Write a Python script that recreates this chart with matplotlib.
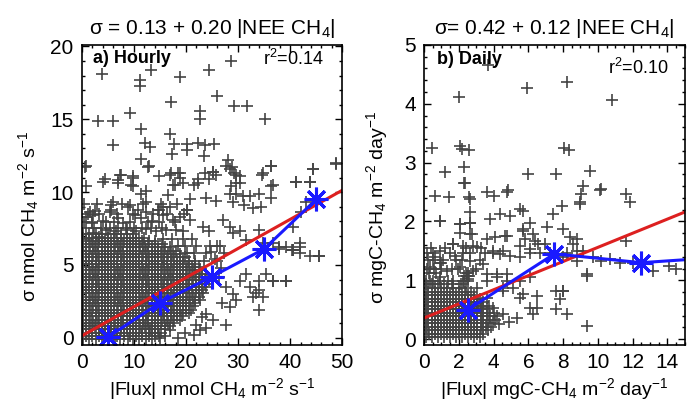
import matplotlib
matplotlib.use("Agg")
import matplotlib.pyplot as plt
from matplotlib.ticker import MultipleLocator

plt.rcParams['font.family'] = ['Liberation Sans', 'DejaVu Sans']
plt.rcParams['mathtext.fontset'] = 'custom'
plt.rcParams['mathtext.rm'] = 'Liberation Sans'
plt.rcParams['mathtext.it'] = 'Liberation Sans'
plt.rcParams['mathtext.bf'] = 'Liberation Sans:bold'

# ---- hourly panel data (|flux| nmol CH4 m-2 s-1, sigma) ----
# dense cloud near the origin, read row by row: sigma -> flux values
hourly_core = {
    -0.1: "0.3 1.4 2.7 3.8 5.2 6.3 7.4 8.8 9.9 11.0 12.3 13.5",
    0.12: "0.9 2.0 3.3 4.4 5.7 6.8 8.1 9.2 10.5 11.6 12.9 14.0 14.8",
    0.35: "0.8 2.0 3.3 4.4 5.7 6.8 8.1 9.2 10.5 11.6 12.9 14.0 15.2",
    0.57: "0.3 1.4 2.7 3.8 5.1 6.2 7.5 8.6 9.9 11.0 12.3 13.4 14.7 15.9",
    0.8: "0.2 1.5 2.6 3.9 5.0 6.3 7.5 8.6 9.9 11.1 12.2 13.5 14.6 15.9 17.0",
    1.02: "0.8 2.1 3.2 4.5 5.6 6.9 8.0 9.3 10.4 11.7 12.8 14.1 15.2 16.5 17.6",
    1.25: "0.9 2.0 3.3 4.5 5.6 6.9 8.0 9.3 10.4 11.7 12.8 14.1 15.3 16.4 17.7 18.8",
    1.47: "0.3 1.4 2.7 3.8 5.1 6.2 7.5 8.6 9.9 11.0 12.3 13.4 14.7 15.8 17.1 18.2 19.3",
    1.7: "0.3 1.6 2.7 3.8 5.1 6.2 7.5 8.6 9.9 11.0 12.3 13.4 14.7 15.8 17.1 18.2 19.5 20.6",
    1.92: "0.9 2.0 3.3 4.4 5.7 6.8 8.1 9.2 10.5 11.6 12.9 14.0 15.3 16.4 17.7 18.8 20.0 21.0",
    2.15: "0.9 2.1 3.2 4.5 5.6 6.9 8.0 9.3 10.4 11.7 12.8 14.1 15.2 16.5 17.6 18.9 20.0 21.3",
    2.37: "0.3 1.4 2.7 3.8 5.1 6.2 7.5 8.6 9.9 11.0 12.3 13.4 14.7 15.8 17.1 18.2 19.5 20.6 21.8",
    2.6: "0.2 1.5 2.6 3.9 5.0 6.3 7.4 8.7 9.8 11.1 12.2 13.5 14.6 15.9 17.0 18.3 19.4 20.7 21.8 22.6",
    2.82: "0.8 2.1 3.2 4.5 5.6 6.9 8.0 9.3 10.4 11.7 12.8 14.1 15.2 16.5 17.6 18.9 20.0 21.3 22.5",
    3.05: "0.9 2.0 3.3 4.4 5.7 6.8 8.1 9.2 10.5 11.6 12.9 14.0 15.3 16.4 17.7 18.8 20.1 21.2 22.4 23.3",
    3.27: "0.3 1.4 2.7 3.8 5.1 6.2 7.5 8.6 9.9 11.0 12.3 13.4 14.7 15.8 17.1 18.2 19.5 20.6 21.9 23.1",
    3.5: "0.3 1.4 2.7 3.8 5.1 6.2 7.5 8.6 9.9 11.0 12.3 13.4 14.7 15.8 17.1 18.2 19.5 20.6 21.9 23.0 23.9",
    3.72: "0.9 2.0 3.3 4.4 5.7 6.8 8.1 9.2 10.5 11.6 12.9 14.0 15.3 16.4 17.7 18.8 20.1 21.2 22.5 23.6",
    3.95: "0.8 2.1 3.2 4.5 5.6 6.9 8.0 9.3 10.4 11.7 12.8 14.1 15.2 16.5 17.6 18.9 20.0 21.3 22.4 23.6 24.5",
    4.17: "0.3 1.4 2.7 3.8 5.1 6.2 7.5 8.6 9.9 11.0 12.3 13.4 14.7 15.8 17.1 18.2 19.5 20.6 21.9 23.0 24.2",
    4.4: "0.2 1.5 2.6 3.9 5.0 6.3 7.4 8.7 9.8 11.1 12.2 13.5 14.6 15.9 17.0 18.3 19.4 20.7 21.8 23.0 23.9",
    4.62: "0.8 2.1 3.2 4.5 5.6 6.9 8.0 9.3 10.4 11.7 12.8 14.1 15.2 16.5 17.6 18.9 20.0 21.3 22.6",
    4.85: "0.9 2.0 3.3 4.4 5.7 6.8 8.1 9.2 10.5 11.6 12.9 14.0 15.3 16.4 17.7 18.8 20.1 21.2 22.5",
    5.07: "0.3 1.4 2.7 3.8 5.1 6.2 7.5 8.6 9.9 11.0 12.3 13.4 14.7 15.8 17.1 18.2 19.5 20.6 21.7",
    5.3: "0.3 1.4 2.7 3.8 5.1 6.2 7.5 8.6 9.9 11.0 12.3 13.4 14.7 15.8 17.1 18.2 19.5 20.6 21.8 23.5 26.0",
    5.52: "0.9 2.0 3.3 4.4 5.7 6.8 8.1 9.2 10.5 11.6 12.9 14.0 15.3 16.4 17.7 18.8 19.9",
    5.75: "0.8 2.1 3.2 4.5 5.6 6.9 8.0 9.3 10.4 11.7 12.8 14.1 15.2 16.5 17.6 18.9",
    5.85: "20.2 21.5 23.8 27.2",
    5.97: "0.3 1.4 2.7 3.8 5.1 6.2 7.5 8.6 9.9 11.0 12.3 13.4 14.7 15.8 17.1 18.0",
    6.2: "0.2 1.5 2.6 3.9 5.0 6.3 7.4 8.7 9.8 11.1 12.2 13.5 14.6 15.9 17.0",
    6.32: "18.4 19.8 22.0 24.6 26.5",
    6.42: "0.8 2.1 3.2 4.5 5.6 6.9 8.0 9.3 10.4 11.7 12.8 14.1 15.3",
    6.65: "0.9 2.0 3.3 4.4 5.7 6.8 8.1 9.2 10.5 11.6 12.9 14.0",
    6.8: "15.5 17.3 19.5 21.2",
    6.87: "0.3 1.4 2.7 3.8 5.1 6.2 7.5 8.6 9.9 11.0 12.0",
    7.1: "0.3 1.4 2.7 3.8 5.1 6.2 7.5 8.6 9.8",
    7.55: "0.8 2.4 3.6 5.5 6.9 8.4 10.0 11.5 13.2 15.4",
    7.95: "0.4 1.9 4.6 6.1 9.2 12.8 14.9 17.8",
    8.5: "1.2 3.3 6.8 9.9 13.6 16.3 19.6",
    9.2: "0.5 2.9 7.7 11.8 15.2 18.2",
}
# scattered points around the cloud
hourly_flux = [3.8, 11.1, 11.1, 13.2, 18.8, 24.5, 28.7, 25.9, 17.2, 29.3, 31.7, 9.2, 3.1, 5.9,
               22.7, 22.7, 35.2, 11.4, 16.9, 5.9, 12.1, 13.0, 17.7, 20.1, 22.3, 23.6, 25.3,
               20.1, 17.4, 23.4, 11.4, 12.9, 0.9, 28.0, 36.3, 28.9, 44.3, 48.8,
               4.4, 7.6, 9.8, 14.9, 17.2, 18.8, 25.2, 29.6, 34.6, 41.2, 43.7,
               0.9, 7.0, 9.8, 17.8, 22.3, 24.5, 28.7, 30.3, 36.3,
               0.6, 4.1, 7.3, 7.0, 9.8, 9.5, 12.7, 11.4, 12.4, 16.9, 18.4, 18.8, 17.5, 16.5,
               19.4, 22.3, 21.6, 23.6, 25.2, 25.8, 27.7, 28.4, 29.3, 29.6, 30.3, 28.4, 29.6,
               30.9, 32.2, 34.1, 34.7, 36.3, 36.6, 41.1, 43.7, 44.3, 48.8,
               34.4, 36.3, 32.8, 31.2, 29.0, 25.8, 23.9, 20.7, 20.1, 15.6, 14.9, 12.4, 9.2,
               6.0, 5.7, 1.5, 2.5,
               20.7, 23.2, 24.5, 27.1, 28.4, 29.0, 30.3, 31.6, 34.1, 34.7, 36.6, 37.9, 39.2,
               40.5, 41.8, 45.6, 40.5, 42.1, 43.0,
               0.9, 2.2, 1.9, 4.1, 5.7, 5.4, 7.0, 7.9, 8.9, 10.2, 10.8, 11.4, 12.4, 13.4,
               14.6, 15.6, 16.9, 17.5, 18.8, 20.1, 18.1, 19.4, 16.2, 14.3, 12.4, 10.5, 8.6,
               6.6, 4.7, 3.4, 2.2, 0.9,
               26.4, 27.7, 29.0, 29.6, 28.4, 30.3, 31.6, 32.2, 32.8, 34.1, 35.4, 36.6, 39.2,
               34.1, 34.7, 23.9, 25.2, 27.7, 23.9, 22.6, 37.9, 40.5, 41.8, 43.7,
               33.5, 34.1, 36.6, 39.2, 40.4, 45.6, 41.8,
               25.5, 26.8, 24.8, 26.0, 27.0, 21.5, 22.0, 23.0, 19.8, 18.5, 17.0, 16.0,
               15.0, 14.0, 13.0]
hourly_sigma = [18.1, 17.7, 17.3, 18.4, 17.9, 18.4, 19.0, 16.6, 16.2, 15.9, 15.9, 15.4, 14.9, 14.9,
                15.6, 15.0, 15.0, 14.3, 14.0, 13.2, 13.4, 13.1, 13.3, 13.3, 13.4, 13.2, 13.3,
                12.9, 12.6, 12.5, 12.3, 11.8, 11.8, 12.2, 11.8, 11.7, 11.6, 12.0,
                10.9, 11.2, 11.1, 11.1, 11.3, 11.3, 11.4, 11.2, 11.2, 10.7, 10.7,
                10.4, 10.8, 10.4, 10.5, 10.6, 10.9, 10.4, 10.6, 10.4,
                11.7, 10.7, 11.2, 10.6, 11.0, 10.5, 11.7, 9.9, 10.1, 11.2, 11.3, 11.0, 10.5, 9.8,
                10.6, 10.9, 10.5, 11.3, 11.4, 11.2, 11.8, 11.6, 11.3, 10.6, 11.1, 9.9, 9.9,
                9.7, 9.7, 9.9, 11.3, 11.8, 10.5, 10.7, 10.7, 11.6, 11.9,
                9.0, 9.6, 8.9, 9.1, 9.3, 9.4, 9.6, 9.5, 8.8, 9.0, 8.8, 9.3, 9.1,
                9.3, 8.8, 8.6, 8.7,
                8.1, 7.6, 7.3, 8.1, 7.6, 7.2, 7.3, 6.7, 7.4, 6.5, 6.5, 6.1, 6.2,
                6.0, 5.8, 5.6, 7.6, 8.6, 9.3,
                8.3, 8.4, 7.9, 8.0, 9.1, 8.6, 8.2, 7.9, 9.0, 8.4, 8.8, 8.2, 8.6, 8.0,
                8.8, 8.4, 9.0, 8.1, 8.3, 8.8, 7.4, 7.3, 7.4, 7.3, 7.5, 7.3, 7.4,
                7.3, 7.4, 6.9, 7.2, 6.8,
                4.2, 3.5, 3.0, 2.6, 2.1, 3.9, 4.4, 3.5, 2.8, 3.9, 4.4, 3.9, 3.9,
                3.3, 2.8, 1.6, 1.2, 0.9, 0.7, 0.5, 6.2, 6.0, 6.5, 5.6,
                3.1, 1.9, 3.9, 3.9, 6.0, 5.6, 6.2,
                5.4, 4.8, 5.9, 6.3, 2.4, 0.2, 0.9, 1.4, 0.3, 0.0, 0.5, 0.1,
                0.0, 0.3, 0.6]
hourly_bin_flux = [5, 15, 25, 35, 45]
hourly_bin_sigma = [0.05, 2.4, 4.2, 6.1, 9.5]
hourly_fit_flux = [0, 50]
hourly_fit_sigma = [0.13, 10.13]

# ---- daily panel data (|flux| mgC-CH4 m-2 day-1, sigma) ----
daily_core = {
    0.03: "0.1 0.45 0.8 1.15 1.5 1.85 2.2 2.55 2.9 3.2",
    0.09: "0.3 0.6 0.95 1.3 1.65 2.0 2.35 2.7 3.05 3.4",
    0.15: "0.25 0.6 0.95 1.3 1.65 2.0 2.35 2.7 3.05 3.4 3.7",
    0.21: "0.1 0.45 0.8 1.15 1.5 1.85 2.2 2.55 2.9 3.25 3.55 3.85",
    0.27: "0.1 0.45 0.8 1.15 1.5 1.85 2.2 2.55 2.9 3.25 3.6 3.95",
    0.33: "0.25 0.6 0.95 1.3 1.65 2.0 2.35 2.7 3.05 3.4 3.75 4.1",
    0.39: "0.25 0.6 0.95 1.3 1.65 2.0 2.35 2.7 3.05 3.4 3.8 4.2",
    0.45: "0.1 0.45 0.8 1.15 1.5 1.85 2.2 2.55 2.9 3.25 3.6 4.0",
    0.51: "0.1 0.45 0.8 1.15 1.5 1.85 2.2 2.55 2.9 3.25 3.6",
    0.57: "0.25 0.6 0.95 1.3 1.65 2.0 2.35 2.7 3.05 3.4 3.75",
    0.63: "0.25 0.6 0.95 1.3 1.65 2.0 2.35 2.7 3.05 3.4",
    0.69: "0.1 0.45 0.8 1.15 1.5 1.85 2.2 2.55 2.9 3.2",
    0.75: "0.1 0.45 0.8 1.15 1.5 1.85 2.2 2.55 2.9",
    0.81: "0.25 0.6 0.95 1.3 1.65 2.0 2.35 2.7",
    0.87: "0.25 0.6 0.95 1.3 1.65 2.0 2.4",
    0.93: "0.1 0.45 0.8 1.15 1.6 2.1",
    0.99: "0.1 0.5 0.9 1.4 2.3 2.5",
    1.07: "2.3 2.45 2.6",
    1.12: "0.3 0.7 2.4 2.55",
    1.2: "0.15 0.55 1.0 1.6 1.95 3.0",
    1.35: "0.25 1.1 1.85 2.2 3.2",
    1.55: "0.4 1.2 2.4 3.3",
}
daily_flux = [0.44, 2.03, 3.70, 5.9, 8.2, 10.8, 2.07, 2.17, 2.6, 8.05, 8.35, 1.21, 2.3, 2.3,
              6.0, 7.6, 9.54, 0.63, 1.45, 2.6, 3.6, 4.0, 4.8, 9.16, 9.06, 10.1, 11.65,
              2.36, 2.64, 4.84, 8.97, 10.2, 11.84,
              0.92, 2.07, 2.64, 2.64, 3.79, 4.37, 4.94, 5.52, 5.71, 6.09, 7.43, 7.91, 8.97,
              2.07, 2.74, 3.6, 4.66, 5.71, 5.8, 6.38, 6.95, 8.0, 8.78, 11.65,
              0.53, 0.92, 1.68, 2.26, 3.03, 3.5, 3.98, 4.37, 4.94, 5.52, 6.09, 6.67, 7.24,
              8.0, 8.2, 8.78, 9.16, 9.73, 10.2, 10.7, 11.3, 12.0, 13.2, 14.1, 14.5,
              5.52, 6.09, 5.71, 6.47, 7.62, 7.82, 7.62, 8.2, 9.35, 9.35, 6.09, 6.28, 5.33,
              4.56, 3.98, 3.6, 4.56, 4.75, 4.18, 3.6, 3.03,
              0.15, 0.63, 0.34, 0.92, 1.49, 1.78, 1.30, 2.07, 2.64, 2.64, 2.83, 3.41, 3.6,
              2.45, 2.26, 2.55, 1.68, 0.92, 0.34,
              0.92, 2.07, 2.64, 2.64, 1.68, 2.26, 2.83, 4.08, 4.75, 4.56, 3.98, 5.71, 6.28,
              5.52, 6.09, 6.57, 7.05, 8.0, 8.39, 8.58, 8.78, 9.35, 8.0, 5.13, 4.56, 4.18,
              4.75, 6.47, 5.52, 4.3, 4.9, 3.3, 3.1, 0.5, 1.0]
daily_sigma = [3.25, 4.12, 4.66, 4.26, 4.37, 4.07, 3.28, 3.24, 3.21, 3.25, 3.22, 2.84, 2.92, 2.65,
               2.8, 2.8, 2.86, 2.44, 2.42, 2.41, 2.50, 2.44, 2.50, 2.61, 2.47, 2.54, 2.47,
               2.65, 2.38, 2.53, 2.33, 2.55, 2.33,
               2.01, 1.96, 1.97, 2.16, 2.04, 2.13, 2.10, 2.21, 2.18, 1.98, 2.13, 2.27, 2.30,
               1.81, 1.79, 1.70, 1.76, 1.84, 1.70, 1.67, 1.62, 1.87, 1.70, 1.67,
               1.47, 1.50, 1.62, 1.47, 1.56, 1.47, 1.47, 1.45, 1.42, 1.39, 1.47, 1.47, 1.47,
               1.39, 1.47, 1.50, 1.50, 1.39, 1.33, 1.36, 1.30, 1.30, 1.16, 1.25, 1.19,
               0.99, 1.05, 0.76, 0.73, 0.82, 0.68, 0.51, 0.42, 1.07, 0.22, 0.53, 0.42, 0.36,
               0.42, 0.53, 0.70, 0.87, 0.99, 1.10, 0.99, 0.87,
               1.47, 1.39, 1.22, 1.30, 1.47, 1.42, 1.16, 1.22, 1.47, 1.33, 1.16, 1.27, 1.10,
               1.07, 0.99, 1.02, 0.99, 1.05, 0.99,
               2.01, 1.96, 1.98, 1.79, 1.62, 1.59, 1.59, 1.73, 1.76, 1.50, 1.50, 1.87, 1.79,
               1.59, 1.53, 1.62, 1.90, 0.82, 1.73, 1.62, 1.33, 1.10, 0.82, 0.87, 0.82, 1.05,
               1.10, 0.53, 0.70, 0.25, 0.30, 0.55, 0.62, 1.35, 1.30]
daily_bin_flux = [2.5, 7.5, 12.5, 17.5]
daily_bin_sigma = [0.5, 1.45, 1.3, 1.4]
daily_fit_flux = [0, 15]
daily_fit_sigma = [0.36, 2.16]


def core_points(rows):
    xs, ys = [], []
    for yv, row in rows.items():
        for v in row.split():
            xs.append(float(v))
            ys.append(yv)
    return xs, ys


def PanelStyle(ax, xmaj, xmin, ymaj, ymin):
    ax.xaxis.set_major_locator(MultipleLocator(xmaj))
    ax.xaxis.set_minor_locator(MultipleLocator(xmin))
    ax.yaxis.set_major_locator(MultipleLocator(ymaj))
    ax.yaxis.set_minor_locator(MultipleLocator(ymin))
    ax.tick_params(which='both', direction='in', top=True, right=True, width=1.0)
    ax.tick_params(which='major', length=5, labelsize=15, pad=6)
    ax.tick_params(which='minor', length=2.5)
    for s in ax.spines.values():
        s.set_linewidth(1.2)


gray = '#444444'
ms = 8
mew = 1.2
fig = plt.figure(figsize=(6.93, 4.05), dpi=100)
ax1 = fig.add_axes([0.118, 0.148, 0.376, 0.741])
ax2 = fig.add_axes([0.612, 0.148, 0.376, 0.741])

cx, cy = core_points(hourly_core)
ax1.plot(cx + hourly_flux, cy + hourly_sigma, '+', color=gray, ms=ms, mew=mew)
ax1.plot(hourly_fit_flux, hourly_fit_sigma, '-', color='#dd2020', lw=2.2)
ax1.plot(hourly_bin_flux, hourly_bin_sigma, '-', color='#1a1aff', lw=2.2,
         marker=(8, 2, 0), ms=17, mew=2.2)
ax1.set_xlim(0, 50)
ax1.set_ylim(-0.5, 20.1)
PanelStyle(ax1, 10, 2, 5, 1)
ax1.set_title("σ = 0.13 + 0.20 |NEE CH$_4$|", fontsize=15, pad=8)
ax1.set_xlabel("|Flux| nmol CH$_4$ m$^{-2}$ s$^{-1}$", fontsize=14, labelpad=3)
ax1.set_ylabel("σ nmol CH$_4$ m$^{-2}$ s$^{-1}$", fontsize=14)
ax1.yaxis.set_label_coords(-0.155, 0.43)
ax1.text(0.042, 0.955, "a) Hourly", transform=ax1.transAxes, fontsize=13,
         fontweight='bold', va='center', ha='left')
ax1.text(0.93, 0.952, "r$^2$=0.14", transform=ax1.transAxes, fontsize=13,
         va='center', ha='right')

cx, cy = core_points(daily_core)
ax2.plot(cx + daily_flux, cy + daily_sigma, '+', color=gray, ms=ms, mew=mew)
ax2.plot(daily_fit_flux, daily_fit_sigma, '-', color='#dd2020', lw=2.2)
ax2.plot(daily_bin_flux, daily_bin_sigma, '-', color='#1a1aff', lw=2.2,
         marker=(8, 2, 0), ms=17, mew=2.2)
ax2.set_xlim(0, 15)
ax2.set_ylim(-0.1, 5.0)
PanelStyle(ax2, 2, 0.5, 1, 0.2)
ax2.set_title("σ= 0.42 + 0.12 |NEE CH$_4$|", fontsize=15, pad=8)
ax2.set_xlabel("|Flux| mgC-CH$_4$ m$^{-2}$ day$^{-1}$", fontsize=14, labelpad=3)
ax2.set_ylabel("σ mgC-CH$_4$ m$^{-2}$ day$^{-1}$", fontsize=14)
ax2.yaxis.set_label_coords(-0.13, 0.46)
ax2.text(0.05, 0.95, "b) Daily", transform=ax2.transAxes, fontsize=13,
         fontweight='bold', va='center', ha='left')
ax2.text(0.94, 0.925, "r$^2$=0.10", transform=ax2.transAxes, fontsize=13,
         va='center', ha='right')

fig.savefig("out.png", dpi=100)
